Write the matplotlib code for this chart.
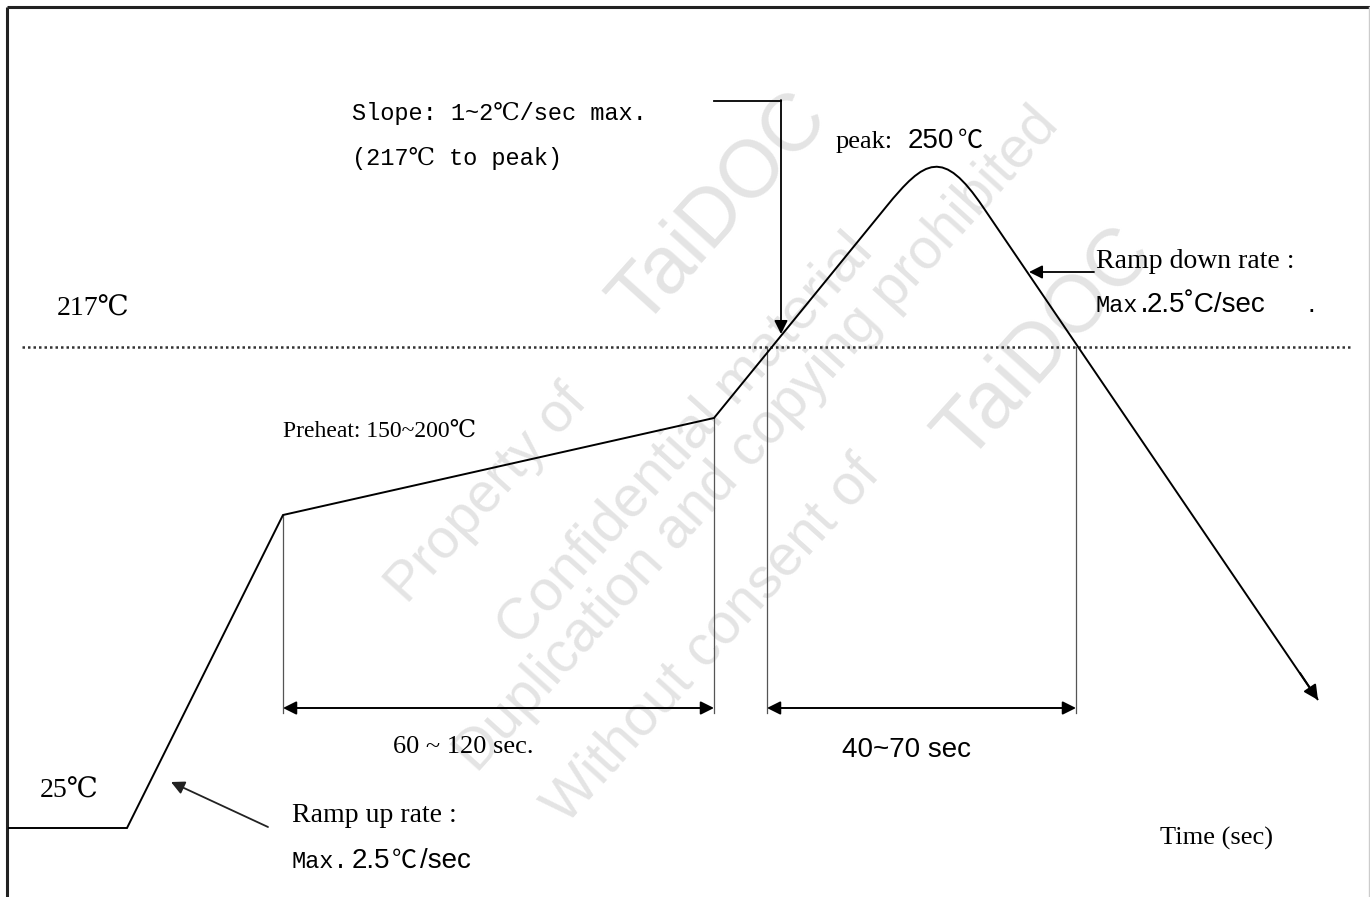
import numpy as np
import matplotlib
matplotlib.use("Agg")
import matplotlib.pyplot as plt
from matplotlib.path import Path
from matplotlib.patches import PathPatch

# schematic reflow profile, drawn in picture units (x: time, y: temperature, y grows downward)
ramp_x = [8, 127, 283, 714, 886]
ramp_y = [828, 828, 515, 418, 207]
peak_ctrl_x = [925, 943, 983]      # cubic bezier round the peak
peak_ctrl_y = [159, 148, 207]
cool_end = (1318, 700)

liquidus_y = 347
liquidus_span = (22, 1352)
preheat_x = (283, 714)
reflow_x = (767, 1076)
dim_y = 708
guide_bottom = 713
guide_top = [515, 418, 347, 347]

serif = ["Liberation Serif", "DejaVu Serif"]
mono = ["Liberation Mono", "DejaVu Serif"]
sans = ["Liberation Sans", "DejaVu Sans"]
cjk = ["Noto Sans CJK SC", "DejaVu Serif"]

fig = plt.figure(figsize=(13.7, 8.97), dpi=100)
ax = fig.add_axes([0, 0, 1, 1])
ax.set_xlim(0, 1370)
ax.set_ylim(897, 0)
ax.axis("off")

# watermark
wm = "#e4e4e4"
wm_kw = dict(color=wm, rotation=48, rotation_mode="anchor", ha="center", va="center",
             family=sans, zorder=0)
ax.text(488, 495, "Property of", fontsize=40, **wm_kw)
ax.text(720, 210, "TaiDOC", fontsize=58, **wm_kw)
ax.text(685, 440, "Confidential material", fontsize=42, **wm_kw)
ax.text(758, 440, "Duplication and copying prohibited", fontsize=41, **wm_kw)
ax.text(712, 640, "Without consent of", fontsize=41, **wm_kw)
ax.text(1045, 345, "TaiDOC", fontsize=58, **wm_kw)

# frame
ax.plot([7, 7], [897, 7], color="#222222", lw=2.2, solid_capstyle="butt")
ax.plot([7, 1370], [7, 7], color="#222222", lw=2.2, solid_capstyle="butt")
ax.plot([1369, 1369], [7, 897], color="#cccccc", lw=1)

# liquidus dotted line
ax.plot(liquidus_span, [liquidus_y, liquidus_y], color="#333333", lw=1.8,
        linestyle=(0, (1, 1.2)), zorder=2)

# profile
verts = list(zip(ramp_x, ramp_y)) + list(zip(peak_ctrl_x, peak_ctrl_y)) + [cool_end]
codes = [Path.MOVETO] + [Path.LINETO] * (len(ramp_x) - 1) + [Path.CURVE4] * 3 + [Path.LINETO]
ax.add_patch(PathPatch(Path(verts, codes), fill=False, edgecolor="black", lw=1.4, zorder=3))
ax.annotate("", xy=cool_end, xytext=(1300, 673),
            arrowprops=dict(arrowstyle="-|>", color="black", lw=1.4, mutation_scale=22,
                            shrinkA=0, shrinkB=0))

# guide lines and dimension arrows
for gx, gt in zip([preheat_x[0], preheat_x[1], reflow_x[0], reflow_x[1]], guide_top):
    ax.plot([gx, gx], [gt, guide_bottom], color="#555555", lw=0.9, zorder=2)
for a, b in [preheat_x, reflow_x]:
    ax.annotate("", xy=(b, dim_y), xytext=(a, dim_y),
                arrowprops=dict(arrowstyle="<|-|>", color="black", lw=1.4, mutation_scale=20,
                                shrinkA=0, shrinkB=0))

# callout arrows
ax.plot([714, 781], [101, 101], color="black", lw=1.3)
ax.annotate("", xy=(781, 334), xytext=(781, 100),
            arrowprops=dict(arrowstyle="-|>", color="black", lw=1.3, mutation_scale=20,
                            shrinkA=0, shrinkB=0))
ax.annotate("", xy=(1029, 272), xytext=(1094, 272),
            arrowprops=dict(arrowstyle="-|>", color="black", lw=1.3, mutation_scale=20,
                            shrinkA=0, shrinkB=0))
ax.annotate("", xy=(171, 782), xytext=(268, 827),
            arrowprops=dict(arrowstyle="-|>", color="#222222", lw=1.3, mutation_scale=20,
                            shrinkA=0, shrinkB=0))

# labels
t = dict(va="baseline", ha="left", color="black")
ax.text(352, 120, "Slope: 1~2℃/sec max.", family=mono, fontsize=17, **t)
ax.text(352, 165, "(217℃ to peak)", family=mono, fontsize=17, **t)

ax.text(836, 148, "peak:", family=serif, fontsize=19, **t)
ax.text(908, 148, "250", family=sans, fontsize=20, **t)
ax.text(958, 148, "℃", family=cjk, fontsize=18, **t)

ax.text(1096, 268, "Ramp down rate :", family=serif, fontsize=20, **t)
ax.text(1096, 312, "Max.", family=mono, fontsize=17, **t)
ax.text(1147, 312, "2.5˚C/sec", family=sans, fontsize=20, **t)
ax.text(1308, 312, ".", family=sans, fontsize=20, **t)

ax.text(57, 316, "217℃", family=serif, fontsize=20, **t)
ax.text(283, 437, "Preheat: 150~200℃", family=serif, fontsize=17, **t)
ax.text(393, 753, "60 ~ 120 sec.", family=serif, fontsize=19, **t)
ax.text(842, 757, "40~70 sec", family=sans, fontsize=20, **t)
ax.text(40, 798, "25℃", family=serif, fontsize=20, **t)

ax.text(292, 822, "Ramp up rate :", family=serif, fontsize=20, **t)
ax.text(292, 868, "Max.", family=mono, fontsize=17, **t)
ax.text(352, 868, "2.5", family=sans, fontsize=20, **t)
ax.text(392, 868, "℃", family=cjk, fontsize=18, **t)
ax.text(420, 868, "/sec", family=sans, fontsize=20, **t)

ax.text(1160, 845, "Time (sec)", family=serif, fontsize=19, **t)

fig.savefig("out.png", dpi=100)
